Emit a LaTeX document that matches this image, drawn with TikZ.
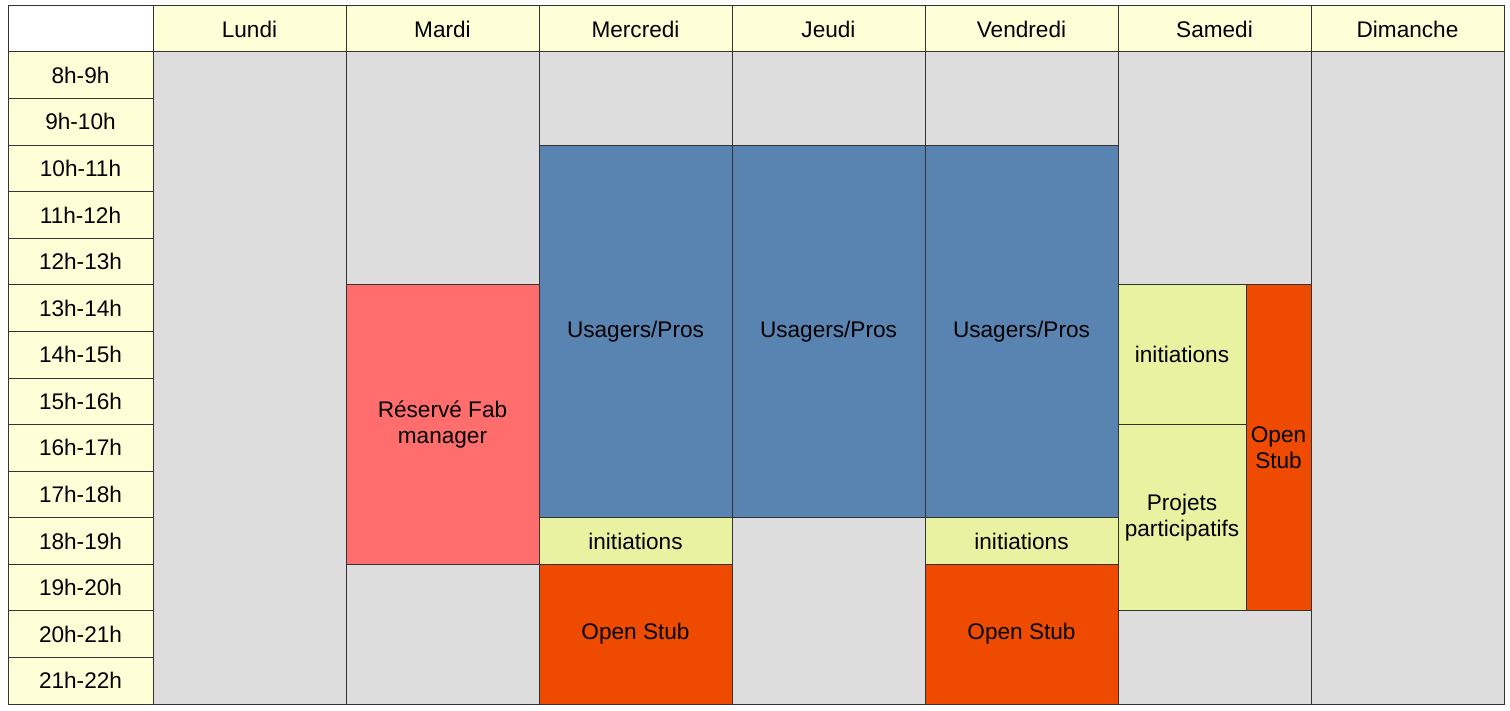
\documentclass[tikz,border=0pt]{standalone}
\usepackage{fontspec}
\setmainfont{Liberation Sans}
\definecolor{hdr}{HTML}{FFFFD7}
\definecolor{off}{HTML}{DDDDDD}
\definecolor{usr}{HTML}{5983B0}
\definecolor{fab}{HTML}{FF6D6D}
\definecolor{ini}{HTML}{E8F2A1}
\definecolor{ost}{HTML}{EE4B00}
\definecolor{grid}{HTML}{333333}
\tikzset{
  cellst/.style={draw=grid, line width=1pt, rectangle, inner sep=0pt, outer sep=0pt,
    align=center, font=\fontsize{22.6}{26}\selectfont, text=black},
}
\newcommand\cellbox[7]{%
  \pgfmathsetmacro\cbYa{52+#4*46.5714}%
  \pgfmathsetmacro\cbYb{52+#5*46.5714}%
  \pgfmathsetmacro\cbW{#3-#2}%
  \pgfmathsetmacro\cbH{\cbYb-\cbYa}%
  \node[cellst, fill=#6, minimum width=\cbW pt, minimum height=\cbH pt, anchor=north west] (#1) at (#2,\cbYa) {#7};}
\newcommand\headbox[4]{%
  \pgfmathsetmacro\cbW{#3-#2}%
  \node[cellst, fill=hdr, minimum width=\cbW pt, minimum height=46pt, anchor=north west] (#1) at (#2,6) {#4};}
\begin{document}
\begin{tikzpicture}[x=1pt,y=-1pt]
\useasboundingbox (0,0) rectangle (1510,711);
% header
\node[cellst, fill=white, minimum width=145pt, minimum height=46pt, anchor=north west] (corner) at (8,6) {};
\headbox{hLu}{153}{346}{Lundi}
\headbox{hMa}{346}{539}{Mardi}
\headbox{hMe}{539}{732}{Mercredi}
\headbox{hJe}{732}{925}{Jeudi}
\headbox{hVe}{925}{1118}{Vendredi}
\headbox{hSa}{1118}{1311}{Samedi}
\headbox{hDi}{1311}{1504}{Dimanche}
% hours
\cellbox{t0}{8}{153}{0}{1}{hdr}{8h-9h}
\cellbox{t1}{8}{153}{1}{2}{hdr}{9h-10h}
\cellbox{t2}{8}{153}{2}{3}{hdr}{10h-11h}
\cellbox{t3}{8}{153}{3}{4}{hdr}{11h-12h}
\cellbox{t4}{8}{153}{4}{5}{hdr}{12h-13h}
\cellbox{t5}{8}{153}{5}{6}{hdr}{13h-14h}
\cellbox{t6}{8}{153}{6}{7}{hdr}{14h-15h}
\cellbox{t7}{8}{153}{7}{8}{hdr}{15h-16h}
\cellbox{t8}{8}{153}{8}{9}{hdr}{16h-17h}
\cellbox{t9}{8}{153}{9}{10}{hdr}{17h-18h}
\cellbox{t10}{8}{153}{10}{11}{hdr}{18h-19h}
\cellbox{t11}{8}{153}{11}{12}{hdr}{19h-20h}
\cellbox{t12}{8}{153}{12}{13}{hdr}{20h-21h}
\cellbox{t13}{8}{153}{13}{14}{hdr}{21h-22h}
% Lundi
\cellbox{lu}{153}{346}{0}{14}{off}{}
% Mardi
\cellbox{ma1}{346}{539}{0}{5}{off}{}
\cellbox{ma2}{346}{539}{5}{11}{fab}{Réservé Fab\\manager}
\cellbox{ma3}{346}{539}{11}{14}{off}{}
% Mercredi
\cellbox{me1}{539}{732}{0}{2}{off}{}
\cellbox{me2}{539}{732}{2}{10}{usr}{Usagers/Pros}
\cellbox{me3}{539}{732}{10}{11}{ini}{initiations}
\cellbox{me4}{539}{732}{11}{14}{ost}{Open Stub}
% Jeudi
\cellbox{je1}{732}{925}{0}{2}{off}{}
\cellbox{je2}{732}{925}{2}{10}{usr}{Usagers/Pros}
\cellbox{je3}{732}{925}{10}{14}{off}{}
% Vendredi
\cellbox{ve1}{925}{1118}{0}{2}{off}{}
\cellbox{ve2}{925}{1118}{2}{10}{usr}{Usagers/Pros}
\cellbox{ve3}{925}{1118}{10}{11}{ini}{initiations}
\cellbox{ve4}{925}{1118}{11}{14}{ost}{Open Stub}
% Samedi
\cellbox{sa1}{1118}{1311}{0}{5}{off}{}
\cellbox{sa2}{1118}{1246}{5}{8}{ini}{initiations}
\cellbox{sa3}{1118}{1246}{8}{12}{ini}{Projets\\participatifs}
\cellbox{sa4}{1246}{1311}{5}{12}{ost}{Open\\Stub}
\cellbox{sa5}{1118}{1311}{12}{14}{off}{}
% Dimanche
\cellbox{di}{1311}{1504}{0}{14}{off}{}
\end{tikzpicture}
\end{document}
